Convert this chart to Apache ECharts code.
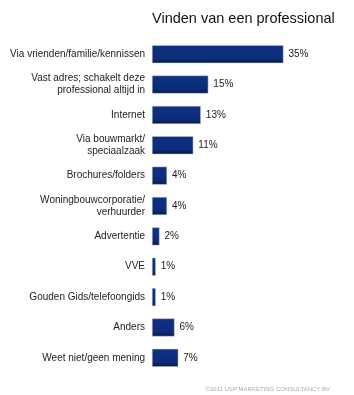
<!DOCTYPE html>
<html>
<head>
<meta charset="utf-8">
<script src="https://cdn.jsdelivr.net/npm/echarts@6/dist/echarts.min.js"></script>
<style>
html, body { margin: 0; padding: 0; background: #fff; }
#chart { width: 354px; height: 395px; }
</style>
</head>
<body>
<div id="chart"></div>
<script>
var categories = [
	'Via vrienden/familie/kennissen',
	'Vast adres; schakelt deze\nprofessional altijd in',
	'Internet',
	'Via bouwmarkt/\nspeciaalzaak',
	'Brochures/folders',
	'Woningbouwcorporatie/\nverhuurder',
	'Advertentie',
	'VVE',
	'Gouden Gids/telefoongids',
	'Anders',
	'Weet niet/geen mening'
];
var values = [35, 15, 13, 11, 4, 4, 2, 1, 1, 6, 7];

var dom = document.getElementById('chart');
var myChart = echarts.init(dom);
var option = {
	animation: false,
	title: {
		text: 'Vinden van een professional',
		left: 147,
		top: 6,
		textStyle: {
			fontFamily: 'Liberation Sans',
			fontSize: 14.5,
			fontWeight: 'normal',
			color: '#111'
		}
	},
	graphic: [{
		type: 'text',
		right: 24,
		top: 386,
		style: {
			text: '©2011 USP MARKETING CONSULTANCY BV',
			font: '6px "Liberation Sans"',
			fill: '#aaa'
		}
	}],
	grid: {
		left: 152,
		right: 33,
		top: 39,
		height: 334,
		containLabel: false
	},
	xAxis: {
		type: 'value',
		min: 0,
		max: 45,
		show: false
	},
	yAxis: {
		type: 'category',
		data: categories,
		inverse: true,
		axisLine: { show: false },
		axisTick: { show: false },
		axisLabel: {
			margin: 7,
			fontFamily: 'Liberation Sans',
			fontSize: 10,
			lineHeight: 12,
			color: '#222'
		}
	},
	series: [{
		type: 'bar',
		data: values,
		barWidth: 18,
		itemStyle: {
			color: new echarts.graphic.LinearGradient(0, 0, 0, 1, [
				{ offset: 0, color: '#0f3184' },
				{ offset: 0.75, color: '#0c2c7a' },
				{ offset: 1, color: '#06183f' }
			]),
			borderColor: '#c8c8d0',
			borderWidth: 0.5
		},
		label: {
			show: true,
			position: 'right',
			distance: 5,
			formatter: '{c}%',
			fontFamily: 'Liberation Sans',
			fontSize: 10,
			color: '#222'
		}
	}]
};
myChart.setOption(option, true);
</script>
</body>
</html>
